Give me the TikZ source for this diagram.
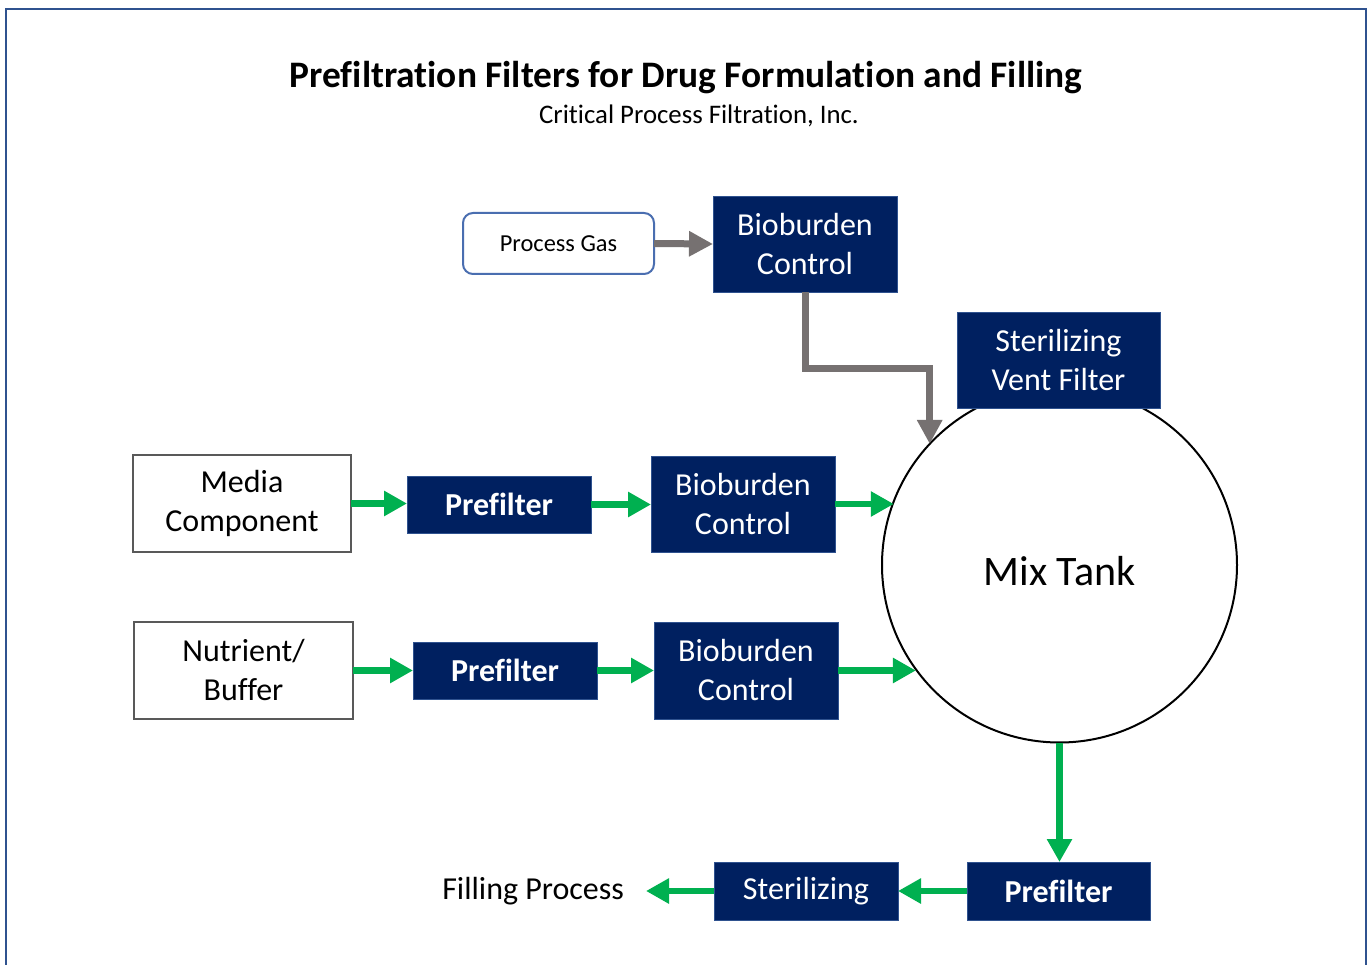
\documentclass[tikz,border=0pt]{standalone}
\usepackage{fontspec}
\setmainfont{Carlito}[Ligatures=NoCommon]
\usetikzlibrary{arrows.meta,calc}
\definecolor{navy}{HTML}{002060}
\definecolor{navyedge}{HTML}{2F528F}
\definecolor{framec}{HTML}{2F528F}
\definecolor{pgedge}{HTML}{4A6EB0}
\definecolor{grayarr}{HTML}{767171}
\definecolor{greenarr}{HTML}{00B050}
\definecolor{boxedge}{HTML}{595959}
\tikzset{
  navybox/.style={fill=navy, draw=navyedge, line width=0.6pt, text=white, inner sep=0pt, outer sep=0pt, align=center, font=\fontsize{32}{39}\selectfont},
  navybold/.style={navybox, font=\bfseries\fontsize{32}{39}\selectfont},
  whitebox/.style={fill=white, draw=boxedge, line width=2.2pt, inner sep=0pt, outer sep=0pt, align=center, font=\fontsize{32}{39}\selectfont},
  greenarrow/.style={draw=greenarr, line width=6.5pt, -{Triangle[length=23pt,width=24pt]}},
  grayarrow/.style={draw=grayarr, line width=7pt, -{Triangle[length=24pt,width=24pt]}},
}
\begin{document}
\begin{tikzpicture}[x=1pt,y=-1pt]
\useasboundingbox (0,0) rectangle (1369,965);
\fill[white] (0,0) rectangle (1369,965);
\draw[framec, line width=2.5pt] (6,970) -- (6,9) -- (1366,9) -- (1366,970);

\node[font=\bfseries\fontsize{37.4}{44}\selectfont, anchor=base] (title) at (686,88) {Prefiltration Filters for Drug Formulation and Filling};
\node[font=\fontsize{26.8}{31}\selectfont, anchor=base] (subtitle) at (699,123.5) {Critical Process Filtration, Inc.};

% Mix tank (drawn first so the vent filter box covers it)
\node[circle, draw=black, line width=2pt, fill=white, minimum size=355pt, inner sep=0pt, outer sep=0pt, text height=40pt, text depth=0pt, font=\fontsize{42}{50}\selectfont] (tank) at (1059.5,565) {Mix Tank};

\node[rounded corners=10pt, draw=pgedge, line width=2pt, fill=white, minimum width=191pt, minimum height=61pt, inner sep=0pt, outer sep=0pt, font=\fontsize{24.4}{28}\selectfont] (pg) at (558.5,243.5) {Process Gas};
\node[navybox, minimum width=184pt, minimum height=96pt] (bc1) at (805,244) {Bioburden\\Control};
\node[navybox, minimum width=203pt, minimum height=96pt] (svf) at (1058.5,360) {Sterilizing\\Vent Filter};

\node[whitebox, minimum width=218pt, minimum height=97pt] (mc) at (242,503.5) {Media\\Component};
\node[navybold, minimum width=184pt, minimum height=57pt] (pf1) at (499,504.5) {Prefilter};
\node[navybox, minimum width=184pt, minimum height=96pt] (bc2) at (743,504) {Bioburden\\Control};

\node[whitebox, minimum width=219pt, minimum height=97pt] (nb) at (243.5,670.5) {Nutrient/\\Buffer};
\node[navybold, minimum width=184pt, minimum height=57pt] (pf2) at (505,670.5) {Prefilter};
\node[navybox, minimum width=184pt, minimum height=97pt] (bc3) at (746,670.5) {Bioburden\\Control};

\node[navybold, minimum width=183pt, minimum height=58pt] (pf3) at (1058.5,891) {Prefilter};
\node[navybox, minimum width=184pt, minimum height=58pt] (st) at (806,891) {Sterilizing};
\node[anchor=east, inner xsep=22pt, inner ysep=0pt, outer sep=0pt, font=\fontsize{32}{39}\selectfont] (fp) at (646,891) {Filling Process};

\coordinate (t1) at (tank.159.9);
\coordinate (t2) at (tank.216.4);
\coordinate (gtip) at (tank.137.8);

% gray arrows
\draw[grayarrow] (pg.east) -- (bc1.west);
\draw[grayarrow] (bc1.south) |- ($(gtip)+(0,-75)$) -- (gtip);

% green arrows
\draw[greenarrow] (mc.east) -- (mc.east -| pf1.west);
\draw[greenarrow] (pf1.east) -- (pf1.east -| bc2.west);
\draw[greenarrow] (bc2.east) -- (bc2.east -| t1);
\draw[greenarrow] (nb.east) -- (nb.east -| pf2.west);
\draw[greenarrow] (pf2.east) -- (pf2.east -| bc3.west);
\draw[greenarrow] (bc3.east) -- (bc3.east -| t2);
\draw[greenarrow] (tank.south) -- (tank.south |- pf3.north);
\draw[greenarrow] (pf3.west) -- (st.east);
\draw[greenarrow] (st.west) -- (fp.east);
\end{tikzpicture}
\end{document}
